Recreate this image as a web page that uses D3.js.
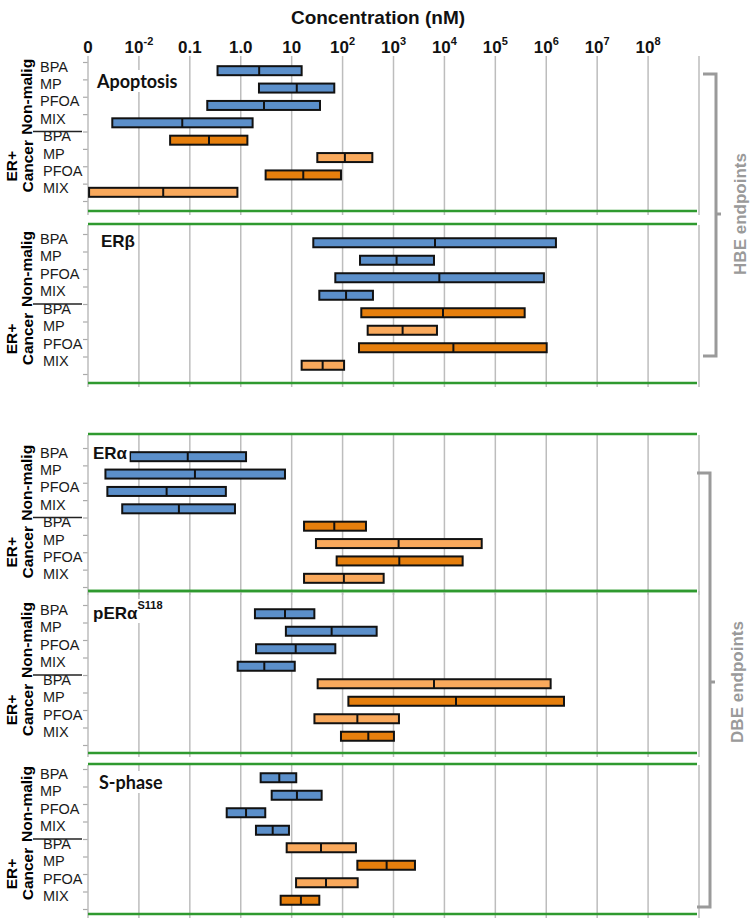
<!DOCTYPE html>
<html>
<head>
<meta charset="utf-8">
<script src="https://cdn.jsdelivr.net/npm/d3@7"></script>
<style>
  body { margin: 0; background: #fff; }
  svg { display: block; }
</style>
</head>
<body>
<div id="chart-area"></div>
<script>
// concentrations in nM, "0" on the axis is drawn at 1e-3
var compounds = ["BPA", "MP", "PFOA", "MIX"];
var endpoints = ["Apoptosis", "ERβ", "ERα", "pERα", "S-phase"];
var tickValues = [1e-3, 1e-2, 1e-1, 1, 10, 1e2, 1e3, 1e4, 1e5, 1e6, 1e7, 1e8];
var tickBase = ["0", "10", "0.1", "1.0", "10", "10", "10", "10", "10", "10", "10", "10"];
var tickSup = ["", "-2", "", "", "", "2", "3", "4", "5", "6", "7", "8"];

// rows: non-malig BPA, MP, PFOA, MIX, then ER+ cancer BPA, MP, PFOA, MIX
var lowConc = [
  [0.35, 2.28, 0.22, 0.003, 0.041, 31.9, 3.08, 0.00105],
  [26.6, 220, 72, 34.9, 233, 311, 210, 15.7],
  [0.0067, 0.0022, 0.0024, 0.0047, 17.5, 30, 76.5, 17.5],
  [1.9, 7.7, 2.0, 0.87, 32.4, 130, 28, 93],
  [2.46, 4.05, 0.53, 1.99, 7.98, 195, 12.2, 6.08]
];
var midConc = [
  [2.3, 12.6, 2.86, 0.071, 0.238, 111, 16.9, 0.030],
  [6530, 1150, 7940, 117, 9370, 1510, 15000, 40.6],
  [0.091, 0.126, 0.035, 0.061, 68.7, 1260, 1300, 106],
  [7.4, 61, 12, 2.9, 6240, 16900, 195, 320],
  [5.71, 12.7, 1.27, 4.24, 37.7, 733, 47.2, 15.2]
];
var highConc = [
  [15.7, 68.7, 36, 1.71, 1.35, 384, 93, 0.86],
  [1.55e6, 6240, 9.0e5, 395, 3.77e5, 7140, 1.02e6, 107],
  [1.27, 7.39, 0.51, 0.77, 288, 54000, 22800, 641],
  [27.9, 467, 72, 11.5, 1.22e6, 2.23e6, 1280, 1020],
  [12.3, 38.8, 3.03, 8.85, 183, 2640, 198, 34.9]
];
// shade of the ER+ cancer bars
var cancerShade = [
  ["dark", "light", "dark", "light"],
  ["dark", "light", "dark", "light"],
  ["dark", "light", "dark", "light"],
  ["light", "dark", "light", "dark"],
  ["light", "dark", "light", "dark"]
];

var colors = { blue: "#5b8fca", dark: "#e67f0d", light: "#f9a95c" };

// panel frames: [top, first tick, last tick, bottom]
var panels = [
  [55, 62, 201, 211],
  [224, 234, 374, 383],
  [434, 448, 587, 591],
  [591, 605, 745, 753],
  [764, 769, 909, 914]
];

var svg = d3.select("#chart-area").append("svg")
  .attr("width", 750)
  .attr("height", 920);

var x = d3.scaleLog()
  .domain([1e-3, 1e9])
  .range([88, 699]);

var gridValues = [1e-2, 1e-1, 1, 10, 1e2, 1e3, 1e4, 1e5, 1e6, 1e7, 1e8, 1e9];

// axis title
svg.append("text")
  .attr("x", 378)
  .attr("y", 24)
  .attr("text-anchor", "middle")
  .style("font", "bold 19px 'Liberation Sans Narrow', 'Liberation Sans', Arial")
  .style("fill", "#111")
  .text("Concentration (nM)");

var tickText = svg.append("g").selectAll("text")
  .data(tickValues)
  .enter().append("text")
  .attr("x", function(d) { return x(d); })
  .attr("y", 53)
  .attr("text-anchor", "middle")
  .style("font", "bold 17px 'Liberation Sans Narrow', 'Liberation Sans', Arial")
  .style("fill", "#111");

tickText.append("tspan").text(function(d, i) { return tickBase[i]; });
tickText.append("tspan")
  .attr("dy", -8)
  .style("font-size", "11px")
  .text(function(d, i) { return tickSup[i]; });

panels.forEach(function(p, k) {
  var g = svg.append("g");
  var rows = d3.range(8);
  var y = d3.scaleBand().domain(rows).range([p[1], p[2]]);
  var yTick = d3.scaleLinear().domain([0, 8]).range([p[1], p[2]]);

  // vertical grid
  g.selectAll(".grid")
    .data(gridValues)
    .enter().append("line")
    .attr("x1", function(d) { return x(d); })
    .attr("x2", function(d) { return x(d); })
    .attr("y1", k == 3 ? p[0] : p[0] + 1)
    .attr("y2", p[3] + 4)
    .attr("stroke", "#bdbdbd")
    .attr("stroke-width", 1.5);

  // left axis with ticks between rows
  var axis = g.append("g")
    .attr("transform", "translate(" + x(1e-3) + ",0)")
    .call(d3.axisLeft(yTick).tickValues(d3.range(9)).tickFormat("").tickSize(5).tickSizeOuter(0));
  axis.select(".domain").remove();
  axis.selectAll("line").attr("stroke", "#aaa").attr("stroke-width", 1.2);
  g.append("line")
    .attr("x1", x(1e-3)).attr("x2", x(1e-3))
    .attr("y1", p[0] + 1).attr("y2", p[3] + 4)
    .attr("stroke", "#bdbdbd")
    .attr("stroke-width", 1.5);

  // green frame lines
  var greens = k == 0 ? [p[3]] : [p[0], p[3]];
  g.selectAll(".green")
    .data(greens)
    .enter().append("line")
    .attr("x1", x(1e-3)).attr("x2", x(1e9) - 2)
    .attr("y1", function(d) { return d; })
    .attr("y2", function(d) { return d; })
    .attr("stroke", "#2f9a2f")
    .attr("stroke-width", 2.5);

  // row labels
  g.selectAll(".rowlab")
    .data(rows)
    .enter().append("text")
    .attr("x", function(d) { return d < 4 ? 40 : 43; })
    .attr("y", function(d) { return y(d) + y.bandwidth() / 2 + 1; })
    .style("font", "14.5px 'Liberation Sans', Arial")
    .style("fill", "#1a1a1a")
    .text(function(d) { return compounds[d % 4]; });

  // group labels
  g.append("text")
    .attr("transform", "translate(32," + yTick(2) + ") rotate(-90)")
    .attr("text-anchor", "middle")
    .style("font", "bold 15.5px 'Liberation Sans', Arial")
    .text("Non-malig");
  g.append("text")
    .attr("transform", "translate(17," + yTick(6) + ") rotate(-90)")
    .attr("text-anchor", "middle")
    .style("font", "bold 15.5px 'Liberation Sans', Arial")
    .text("ER+");
  g.append("text")
    .attr("transform", "translate(33," + yTick(6) + ") rotate(-90)")
    .attr("text-anchor", "middle")
    .style("font", "bold 15.5px 'Liberation Sans', Arial")
    .text("Cancer");
  g.append("line")
    .attr("x1", 33).attr("x2", 82)
    .attr("y1", yTick(4)).attr("y2", yTick(4))
    .attr("stroke", "#222")
    .attr("stroke-width", 1.3);

  // bars
  var barH = 9;
  var bars = g.selectAll(".bar")
    .data(rows)
    .enter().append("g");

  bars.append("rect")
    .attr("x", function(d) { return x(lowConc[k][d]); })
    .attr("y", function(d) { return y(d) + y.bandwidth() / 2 - barH / 2; })
    .attr("width", function(d) { return x(highConc[k][d]) - x(lowConc[k][d]); })
    .attr("height", barH)
    .attr("fill", function(d) {
      if (d < 4) {
        return colors.blue;
      }
      else {
        return colors[cancerShade[k][d - 4]];
      }
    })
    .attr("stroke", "#111")
    .attr("stroke-width", 2);

  bars.append("line")
    .attr("x1", function(d) { return x(midConc[k][d]); })
    .attr("x2", function(d) { return x(midConc[k][d]); })
    .attr("y1", function(d) { return y(d) + y.bandwidth() / 2 - barH / 2; })
    .attr("y2", function(d) { return y(d) + y.bandwidth() / 2 + barH / 2; })
    .attr("stroke", "#111")
    .attr("stroke-width", 2);
});

// panel titles with white backing
var titlePos = [[97, 88], [101, 247], [93, 459], [93, 619], [99, 789]];
endpoints.forEach(function(name, k) {
  var t = svg.append("text")
    .attr("x", titlePos[k][0])
    .attr("y", titlePos[k][1])
    .style("font", (k == 0 || k == 4) ? "bold 18px Lato, 'Open Sans', Arial" : "bold 17px 'Liberation Sans', Arial")
    .style("fill", "#111")
    .text(name);
  if (k == 3) {
    t.append("tspan")
      .attr("dy", -10)
      .style("font-size", "11px")
      .text("S118");
  }
  var b = t.node().getBBox();
  svg.insert("rect", function() { return t.node(); })
    .attr("x", b.x - 2)
    .attr("y", b.y)
    .attr("width", b.width + 4)
    .attr("height", b.height)
    .attr("fill", "#fff");
});

// right-hand braces
var braces = [
  { label: "HBE endpoints", top: 74, bottom: 356, x: 716, mid: 214, tx: 740 },
  { label: "DBE endpoints", top: 473, bottom: 907, x: 710, mid: 682, tx: 737 }
];
braces.forEach(function(b) {
  svg.append("path")
    .attr("d", "M" + (b.x - 13) + "," + b.top + " H" + b.x + " V" + b.bottom + " H" + (b.x - 13))
    .attr("fill", "none")
    .attr("stroke", "#9a9a9a")
    .attr("stroke-width", 3);
  svg.append("line")
    .attr("x1", b.x).attr("x2", b.x + 5)
    .attr("y1", b.mid).attr("y2", b.mid)
    .attr("stroke", "#9a9a9a")
    .attr("stroke-width", 3);
  svg.append("text")
    .attr("transform", "translate(" + b.tx + "," + b.mid + ") rotate(-90)")
    .attr("text-anchor", "middle")
    .attr("dy", "0.35em")
    .style("font", "bold 17px 'Liberation Sans', Arial")
    .style("fill", "#9a9a9a")
    .text(b.label);
});
</script>
</body>
</html>
